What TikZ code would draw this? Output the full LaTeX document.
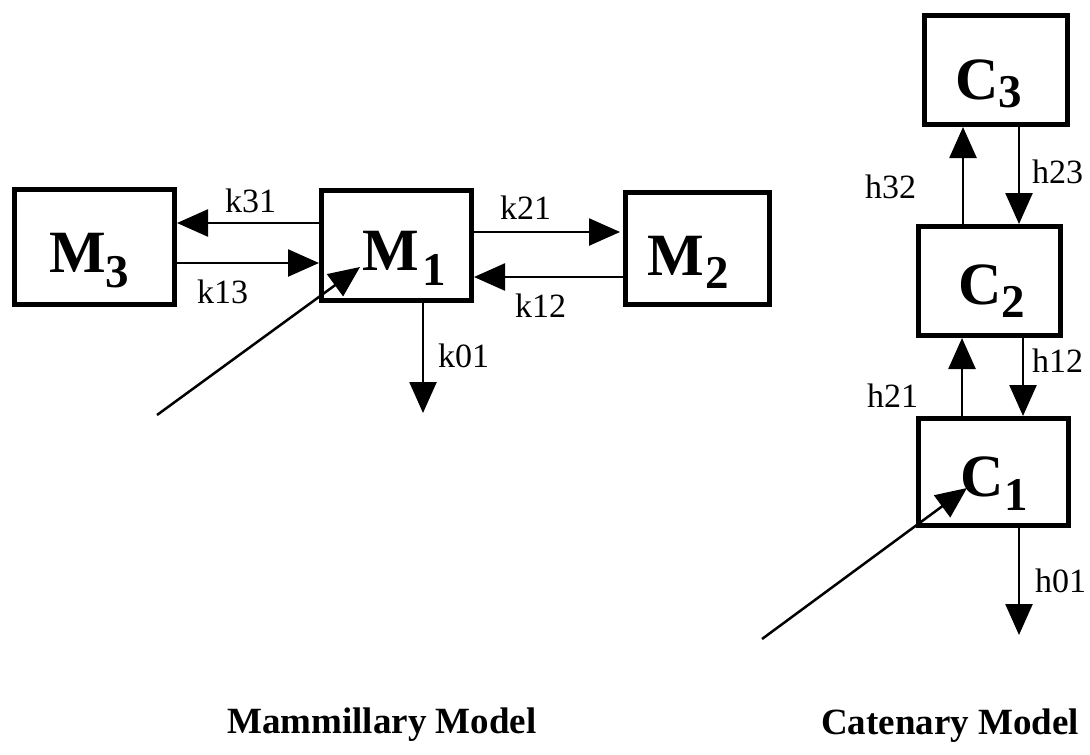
\documentclass[tikz,border=0pt]{standalone}
\usepackage{fontspec}
\setmainfont{Liberation Serif}
\usetikzlibrary{arrows.meta,calc}
\newcommand\cmplab[4]{#1\kern#2pt\raisebox{-#3pt}{\fontsize{47}{47}\selectfont #4}}
\begin{document}
\begin{tikzpicture}[x=1pt,y=-1pt,
 box/.style={draw,line width=5pt,rectangle,inner sep=0pt},
 arr/.style={line width=2.5pt,-{Triangle[length=31pt,width=27pt]}},
 lbl/.style={anchor=base west,inner sep=0pt,font=\fontsize{34}{34}\selectfont},
 cmp/.style={anchor=base west,inner sep=0pt,font=\fontsize{60}{60}\selectfont\bfseries},
 ttl/.style={anchor=base west,inner sep=0pt,font=\fontsize{37}{37}\selectfont\bfseries}]
\useasboundingbox (0,0) rectangle (1090,755);
% Mammillary boxes
\node[box,minimum width=160pt,minimum height=115pt] (M3) at (94.5,247) {};
\node[box,minimum width=150pt,minimum height=110pt] (M1) at (396.5,245.5) {};
\node[box,minimum width=144pt,minimum height=112pt] (M2) at (697.5,248.5) {};
\node[cmp] (M3t) at (49,272) {\cmplab{M}{0}{15}{3}};
\node[cmp] (M1t) at (362,270) {\cmplab{M}{4}{15}{1}};
\node[cmp] (M2t) at (647,275) {\cmplab{M}{2}{13}{2}};
% Catenary boxes
\node[box,minimum width=143pt,minimum height=109pt] (C3) at (996,70) {};
\node[box,minimum width=142pt,minimum height=109pt] (C2) at (989.5,281) {};
\node[box,minimum width=150pt,minimum height=107pt] (C1) at (993.5,472) {};
\node[cmp] (C3t) at (955,99) {\cmplab{C}{0}{8}{3}};
\node[cmp] (C2t) at (958,304) {\cmplab{C}{0}{13}{2}};
\node[cmp] (C1t) at (960,496) {\cmplab{C}{1}{14}{1}};
% Mammillary connectors
\draw[arr] (M1.west |- 0,223) -- (M3.east |- 0,223);
\draw[arr] (M3.east |- 0,263) -- (M1.west |- 0,263);
\draw[arr,shorten >=3pt] (M1.east |- 0,232) -- (M2.west |- 0,232);
\draw[arr] (M2.west |- 0,277) -- (M1.east |- 0,277);
\coordinate (k01end) at (423,413);
\draw[arr] (M1.south -| k01end) -- (k01end);
\coordinate (inM) at (157,415);
\coordinate (inMtip) at (360,267);
\draw[arr] (inM) -- (inMtip);
% Catenary connectors
\draw[arr] (C2.north -| 963,0) -- (C3.south -| 963,0);
\draw[arr] (C3.south -| 1019,0) -- (C2.north -| 1019,0);
\draw[arr] (C1.north -| 962,0) -- (C2.south -| 962,0);
\draw[arr] (C2.south -| 1023,0) -- (C1.north -| 1023,0);
\coordinate (h01end) at (1019,635);
\draw[arr] (C1.south -| h01end) -- (h01end);
\coordinate (inC) at (762,639);
\coordinate (inCtip) at (967,488);
\draw[arr] (inC) -- (inCtip);
% rate labels
\node[lbl] (k31) at (225,212) {k31};
\node[lbl] (k13) at (197,303) {k13};
\node[lbl] (k21) at (500,219) {k21};
\node[lbl] (k12) at (515,317) {k12};
\node[lbl] (k01) at (438,367) {k01};
\node[lbl] (h32) at (865,198) {h32};
\node[lbl] (h23) at (1032,183) {h23};
\node[lbl] (h21) at (867,407) {h21};
\node[lbl] (h12) at (1032,372) {h12};
\node[lbl] (h01) at (1035,592) {h01};
% titles
\node[ttl] (mtitle) at (227,733) {Mammillary Model};
\node[ttl] (ctitle) at (821,734) {Catenary Model};
\end{tikzpicture}
\end{document}
